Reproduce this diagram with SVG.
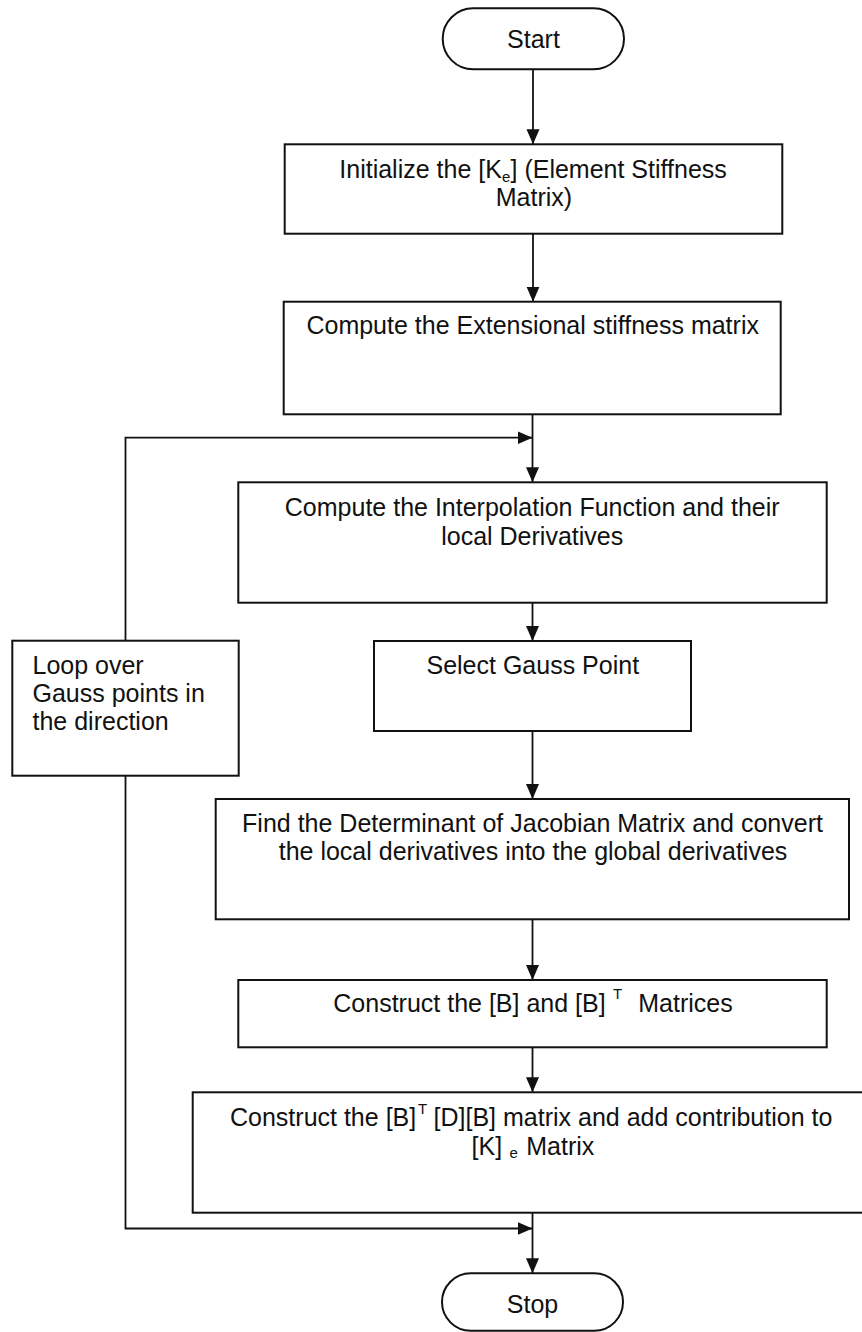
<svg xmlns="http://www.w3.org/2000/svg" width="862" height="1332" viewBox="0 0 862 1332">
  <style>
    .box { fill: #ffffff; stroke: #111111; stroke-width: 2; }
    .lbl { font-family: "Liberation Sans", Arial, sans-serif; font-size: 25px; fill: #111111; }
    .mid { text-anchor: middle; }
    .small { font-size: 15px; }
    .wire { fill: none; stroke: #111111; stroke-width: 1.8; }
  </style>
  <defs>
    <marker id="arrow" markerUnits="userSpaceOnUse" markerWidth="16" markerHeight="14" refX="15" refY="6.5" orient="auto">
      <path d="M0,0 L15,6.5 L0,13 Z" fill="#111111"/>
    </marker>
  </defs>

  <rect width="862" height="1332" fill="#ffffff"/>

  <!-- connectors -->
  <g id="connectors">
    <line class="wire" x1="533" y1="69.3" x2="533" y2="144.3" marker-end="url(#arrow)"/>
    <line class="wire" x1="533" y1="233.7" x2="533" y2="301.7" marker-end="url(#arrow)"/>
    <line class="wire" x1="532.5" y1="414.3" x2="532.5" y2="482.3" marker-end="url(#arrow)"/>
    <polyline class="wire" points="125.5,640.7 125.5,437.7 532.5,437.7" marker-end="url(#arrow)"/>
    <line class="wire" x1="532.5" y1="602.7" x2="532.5" y2="641" marker-end="url(#arrow)"/>
    <line class="wire" x1="532.5" y1="731" x2="532.5" y2="799" marker-end="url(#arrow)"/>
    <line class="wire" x1="532.5" y1="919.3" x2="532.5" y2="980" marker-end="url(#arrow)"/>
    <line class="wire" x1="532.5" y1="1047.3" x2="532.5" y2="1092.3" marker-end="url(#arrow)"/>
    <line class="wire" x1="532.5" y1="1212.7" x2="532.5" y2="1273.3" marker-end="url(#arrow)"/>
    <polyline class="wire" points="125.5,775.7 125.5,1228.5 532.5,1228.5" marker-end="url(#arrow)"/>
  </g>

  <!-- terminal: start -->
  <g id="start">
    <rect class="box" x="442.7" y="8.3" width="181.3" height="61" rx="30.5" ry="30.5"/>
    <text class="lbl mid" x="533.5" y="48.3">Start</text>
  </g>

  <!-- initialise element stiffness matrix -->
  <g id="init">
    <rect class="box" x="284.7" y="144.3" width="497.6" height="89.4"/>
    <text class="lbl" x="339.3" y="178.3">Initialize the [K<tspan class="small" dy="4">e</tspan><tspan x="510.5" dy="-4">] (Element Stiffness</tspan></text>
    <text class="lbl mid" x="534" y="206">Matrix)</text>
  </g>

  <!-- extensional stiffness -->
  <g id="extensional">
    <rect class="box" x="283.7" y="301.7" width="497" height="112.6"/>
    <text class="lbl mid" x="532.7" y="334">Compute the Extensional stiffness matrix</text>
  </g>

  <!-- interpolation functions -->
  <g id="interpolation">
    <rect class="box" x="238.3" y="482.3" width="588.4" height="120.4"/>
    <text class="lbl mid" x="532.2" y="516">Compute the Interpolation Function and their</text>
    <text class="lbl mid" x="532.2" y="544.5">local Derivatives</text>
  </g>

  <!-- loop box -->
  <g id="loop">
    <rect class="box" x="12.3" y="640.7" width="226.4" height="135"/>
    <text class="lbl" x="32.5" y="674">Loop over</text>
    <text class="lbl" x="32.5" y="702">Gauss points in</text>
    <text class="lbl" x="32.5" y="730">the direction</text>
  </g>

  <!-- gauss point selection -->
  <g id="select">
    <rect class="box" x="374" y="641" width="317" height="90"/>
    <text class="lbl mid" x="532.8" y="674">Select Gauss Point</text>
  </g>

  <!-- jacobian -->
  <g id="jacobian">
    <rect class="box" x="215.7" y="799" width="633.3" height="120.3"/>
    <text class="lbl mid" x="532.5" y="831.5">Find the Determinant of Jacobian Matrix and convert</text>
    <text class="lbl mid" x="533" y="860">the local derivatives into the global derivatives</text>
  </g>

  <!-- B matrices -->
  <g id="bmatrix">
    <rect class="box" x="238.3" y="980" width="588.4" height="67.3"/>
    <text class="lbl" x="333.3" y="1011.7">Construct the [B] and [B] <tspan class="small" x="613" dy="-13">T</tspan><tspan x="638.3" dy="13">Matrices</tspan></text>
  </g>

  <!-- BtDB contribution -->
  <g id="btdb">
    <rect class="box" x="192.7" y="1092.3" width="678.6" height="120.4"/>
    <text class="lbl" x="230" y="1126">Construct the [B]<tspan class="small" x="418" dy="-12">T</tspan><tspan x="426.6" dy="12"> [D][B] matrix and add contribution to</tspan></text>
    <text class="lbl" x="471.6" y="1155">[K]<tspan class="small" x="509.5" dy="3">e</tspan><tspan x="526.3" dy="-3">Matrix</tspan></text>
  </g>

  <!-- terminal: stop -->
  <g id="stop">
    <rect class="box" x="442" y="1273.3" width="181" height="57.5" rx="28.7" ry="28.7"/>
    <text class="lbl mid" x="532.5" y="1313">Stop</text>
  </g>
</svg>
